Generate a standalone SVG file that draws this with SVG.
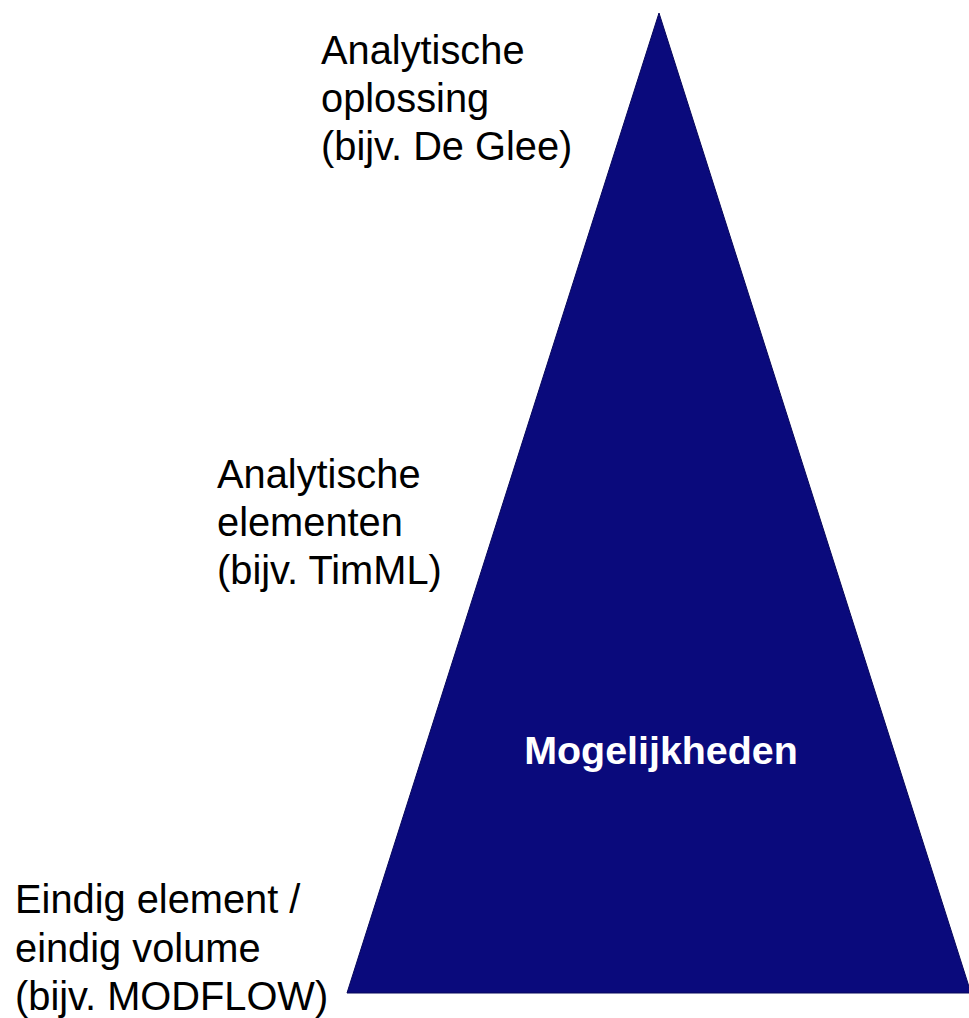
<svg xmlns="http://www.w3.org/2000/svg" width="969" height="1018" viewBox="0 0 969 1018">
<style>
.lbl{font-family:"Liberation Sans",Arial,sans-serif;font-size:39.8px;fill:#000}
.in{font-family:"Liberation Sans",Arial,sans-serif;font-size:39.4px;font-weight:bold;fill:#fff}
</style>
<rect width="969" height="1018" fill="#fff"/>
<g id="triangle">
<polygon points="659,13 347,993 971,993" fill="#0a0a7c" stroke="#06065a" stroke-width="1"/>
<text class="in" x="661" y="764" text-anchor="middle">Mogelijkheden</text>
</g>
<g id="label-top">
<text class="lbl" x="321" y="64">Analytische</text>
<text class="lbl" x="321" y="112">oplossing</text>
<text class="lbl" x="321" y="160">(bijv. De Glee)</text>
</g>
<g id="label-mid">
<text class="lbl" x="217" y="488">Analytische</text>
<text class="lbl" x="217" y="536">elementen</text>
<text class="lbl" x="217" y="584">(bijv. TimML)</text>
</g>
<g id="label-bottom">
<text class="lbl" x="15" y="913">Eindig element /</text>
<text class="lbl" x="15" y="962">eindig volume</text>
<text class="lbl" x="15" y="1010">(bijv. MODFLOW)</text>
</g>
<g id="connectors"/>
</svg>
